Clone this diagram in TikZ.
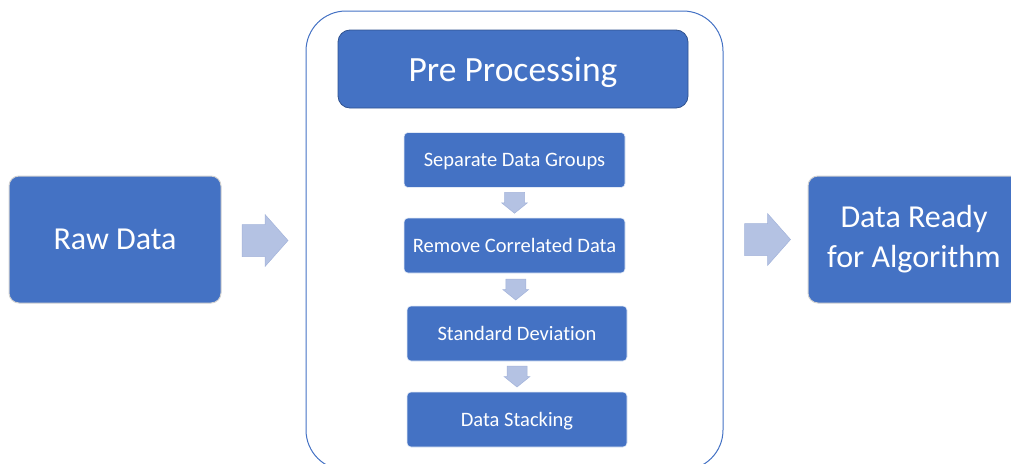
\documentclass[tikz,border=0pt]{standalone}
\usepackage{fontspec}
\setmainfont{Carlito}[Ligatures=NoCommon]
\usetikzlibrary{calc}
\definecolor{boxblue}{HTML}{4472C4}
\definecolor{darkblue}{HTML}{2F528F}
\definecolor{arrowc}{HTML}{B4C2E3}
\definecolor{arrowb}{HTML}{A3B3DA}
\tikzset{
  bigbox/.style={draw=lightgray!70, line width=1pt, fill=boxblue, rounded corners=10pt, text=white, align=center, inner sep=0pt, font=\fontsize{32}{40}\selectfont},
  stepbox/.style={draw=white!85!boxblue, line width=0.6pt, fill=boxblue, rounded corners=4pt, text=white, inner sep=0pt, minimum width=221pt, minimum height=55pt, text depth=0pt, font=\fontsize{20.5}{24}\selectfont},
  prebox/.style={draw=darkblue, line width=0.8pt, fill=boxblue, rounded corners=12pt, text=white, inner sep=0pt, minimum width=350pt, minimum height=78pt, text depth=0pt, font=\fontsize{35.5}{40}\selectfont},
  container/.style={draw=boxblue, line width=1pt, rounded corners=40pt, inner sep=0pt, minimum width=417pt, minimum height=459pt},
  blockarrow/.style={fill=arrowc, draw=arrowb, line width=0.5pt}
}
\begin{document}
\begin{tikzpicture}[x=1pt,y=-1pt]
\useasboundingbox (0,0) rectangle (1011,463);
\clip (0,0) rectangle (1011,463);
\node[container] (box) at (514.5,240.5) {};
\node[bigbox, minimum width=212pt, minimum height=127pt] (raw) at (115,239.5) {Raw Data};
\node[bigbox, minimum width=212pt, minimum height=127pt] (ready) at (914,239.5) {Data Ready\\for Algorithm};
\node[prebox] (pre) at (513,69) {Pre Processing};
\node[stepbox] (s1) at (514.5,160) {Separate Data Groups};
\node[stepbox] (s2) at (514.5,245.5) {Remove Correlated Data};
\node[stepbox, minimum width=220pt] (s3) at (517,333.5) {Standard Deviation};
\node[stepbox, minimum width=220pt] (s4) at (517,419.5) {Data Stacking};
% horizontal block arrows
\coordinate (a1) at ($(raw.east)!0.5!(box.west)+(1.5,0.5)$);
\coordinate (a2) at ($(box.east)!0.5!(ready.west)+(2,-0.5)$);
\foreach \c in {a1,a2}{
  \draw[blockarrow] ($(\c)+(-23,-16)$) -- ($(\c)+(0,-16)$) -- ($(\c)+(0,-26)$) -- ($(\c)+(23,0)$) -- ($(\c)+(0,26)$) -- ($(\c)+(0,16)$) -- ($(\c)+(-23,16)$) -- cycle;
}
% vertical block arrows
\coordinate (d1) at ($(s1.south)!0.5!(s2.north)$);
\coordinate (d2) at ($(s2.south)!0.5!(s3.north)$);
\coordinate (d3) at ($(s3.south)!0.5!(s4.north)$);
\foreach \c in {d1,d2,d3}{
  \draw[blockarrow] ($(\c)+(-10,-10.5)$) -- ($(\c)+(10,-10.5)$) -- ($(\c)+(10,0)$) -- ($(\c)+(13,0)$) -- ($(\c)+(0,10.5)$) -- ($(\c)+(-13,0)$) -- ($(\c)+(-10,0)$) -- cycle;
}
\end{tikzpicture}
\end{document}
